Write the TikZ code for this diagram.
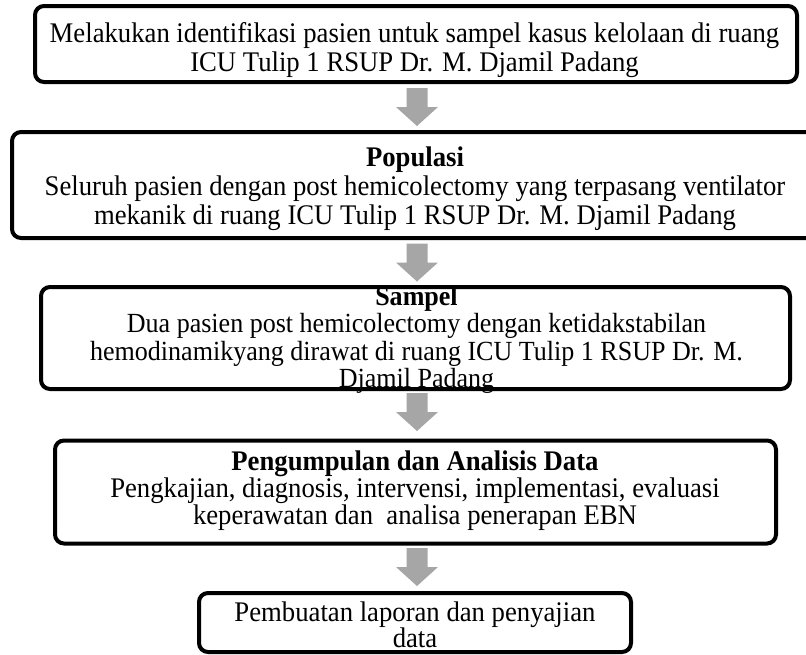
\documentclass[tikz,border=0pt]{standalone}
\usepackage{fontspec}
\setmainfont[FakeStretch=0.94]{Liberation Serif}
\usetikzlibrary{calc}
\newcommand\myfs[2]{\fontsize{#1}{#2}\selectfont\lineskiplimit=-100pt\lineskip=0pt\relax}
\tikzset{
  box/.style={draw=black, line width=4pt, rounded corners=9pt, fill=none, inner sep=0pt},
  txt/.style={align=center, inner sep=0pt, text=black},
  garrow/.pic={\fill[black!35] (-10.5,0) -- (10.5,0) -- (10.5,19) -- (21,19) -- (0,38)
     -- (-21,19) -- (-10.5,19) -- cycle;}
}
\begin{document}
\begin{tikzpicture}[x=1pt,y=-1pt]
\useasboundingbox (0,0) rectangle (806,654);
\clip (0,0) rectangle (806,654);
\fill[white] (0,0) rectangle (806,654);
% arrows (behind boxes)
\coordinate (a1) at (417,88);
\coordinate (a2) at (417,243.5);
\coordinate (a3) at (417,393);
\coordinate (a4) at (417,548);
\pic at (a1) {garrow};
\pic at (a2) {garrow};
\pic at (a3) {garrow};
\pic at (a4) {garrow};
% boxes
\node[box, minimum width=762pt, minimum height=76pt] (b1) at (416,44) {};
\node[box, minimum width=820pt, minimum height=106pt] (b2) at (422,185) {};
\node[box, minimum width=749pt, minimum height=102pt] (b3) at (415.5,338) {};
\node[box, minimum width=721pt, minimum height=103pt] (b4) at (415.5,492) {};
\node[box, minimum width=432pt, minimum height=59pt] (b5) at (415,622.5) {};
% texts
\node[txt, font=\myfs{28.4}{29}] (t1) at (414.5,50)
  {Melakukan identifikasi pasien untuk sampel kasus kelolaan di ruang\\ICU Tulip 1 RSUP Dr. M. Djamil Padang};
\node[txt, font=\myfs{28.4}{29}] (t2) at (415,188.5)
  {\textbf{Populasi}\\Seluruh pasien dengan post hemicolectomy yang terpasang ventilator\\mekanik di ruang ICU Tulip 1 RSUP Dr. M. Djamil Padang};
\node[txt, font=\myfs{27.7}{27.3}] (t3) at (416.5,340)
  {\textbf{Sampel}\\Dua pasien post hemicolectomy dengan ketidakstabilan\\hemodinamikyang dirawat di ruang ICU Tulip 1 RSUP Dr. M.\\Djamil Padang};
\node[txt, font=\myfs{28.4}{27}] (t4) at (415,491)
  {\textbf{Pengumpulan dan Analisis Data}\\Pengkajian, diagnosis, intervensi, implementasi, evaluasi\\keperawatan dan\ \ analisa penerapan EBN};
\node[txt, font=\myfs{28.4}{26}] (t5) at (415,625)
  {Pembuatan laporan dan penyajian\\data};
\end{tikzpicture}
\end{document}
